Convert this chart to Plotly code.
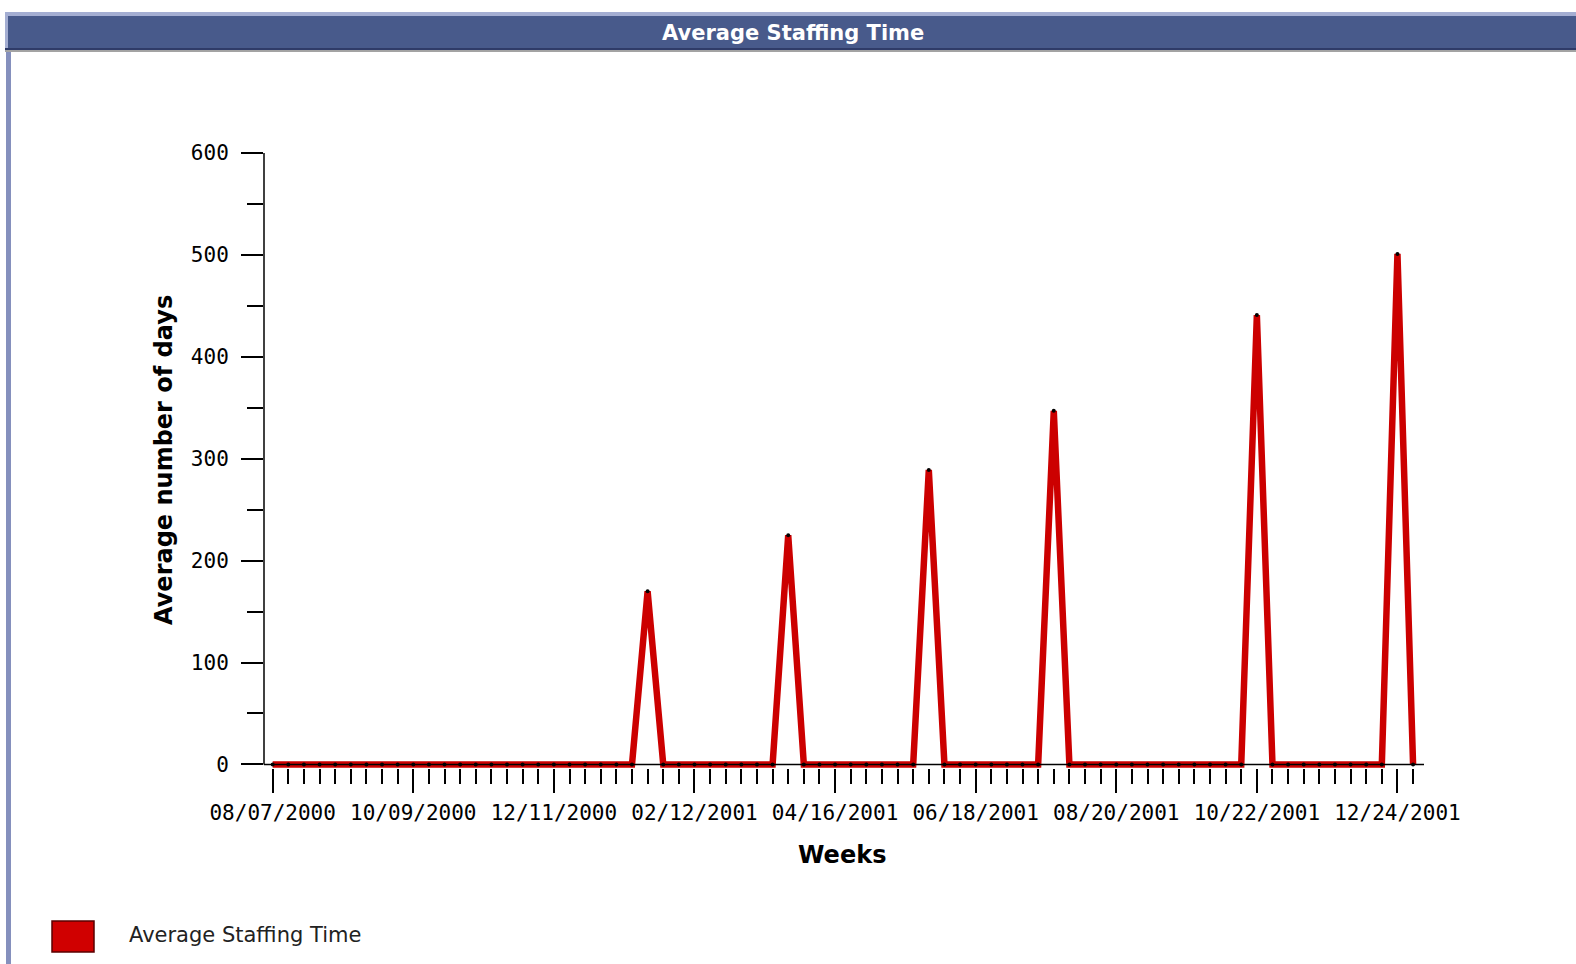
import pandas as pd
import plotly.graph_objects as go

# ---- data ----
start_week = "2000-08-07"
n_weeks = 74
weeks = pd.date_range(start_week, periods=n_weeks, freq="7D")
values = [0] * 24 + [170] + [0] * 8 + [225] + [0] * 8 + [289] + [0] * 7 + [347] + \
         [0] * 12 + [441] + [0] * 8 + [501] + [0]
y_ticks = [0, 100, 200, 300, 400, 500, 600]
title_text = "Average Staffing Time"
series_name = "Average Staffing Time"
x_title = "Weeks"
y_title = "Average number of days"

# ---- layout geometry (pixels) ----
W, H = 1576, 964
L, R = 264, 1424
T, B = 153, 768


def px(x):
    return (x - L) / (R - L)


def py(y):
    return (B - y) / (B - T)


DAY = 86400000
fig = go.Figure()
fig.add_trace(go.Scatter(
    x=weeks, y=values, mode="lines+markers", name=series_name,
    line=dict(color="#CC0000", width=6.5),
    marker=dict(color="black", size=4),
    cliponaxis=False, showlegend=False,
))

shapes = [
    # left border of panel
    dict(type="rect", xref="paper", yref="paper", x0=px(6), x1=px(11), y0=py(964), y1=py(13),
         fillcolor="#8590bd", line=dict(width=0), layer="below"),
    # title bar
    dict(type="rect", xref="paper", yref="paper", x0=px(5), x1=px(1580), y0=py(52), y1=py(12),
         fillcolor="#a3a3a3", line=dict(width=0)),
    dict(type="rect", xref="paper", yref="paper", x0=px(5), x1=px(1580), y0=py(50), y1=py(12),
         fillcolor="#2f3b68", line=dict(width=0)),
    dict(type="rect", xref="paper", yref="paper", x0=px(5), x1=px(1580), y0=py(48), y1=py(12),
         fillcolor="#a4aed2", line=dict(width=0)),
    dict(type="rect", xref="paper", yref="paper", x0=px(8), x1=px(1580), y0=py(48), y1=py(16),
         fillcolor="#485a8b", line=dict(width=0)),
    # axis lines
    dict(type="line", xref="paper", yref="y", x0=0, x1=1, y0=0, y1=0,
         line=dict(color="black", width=1.5)),
    dict(type="line", xref="paper", yref="y", x0=0, x1=0, y0=0, y1=600,
         line=dict(color="black", width=1.5)),
    # legend swatch
    dict(type="rect", xref="paper", yref="paper", x0=px(52), x1=px(94), y0=py(952), y1=py(921),
         fillcolor="#d00000", line=dict(color="#5a0000", width=1.5)),
]

annotations = [
    dict(text="<b>" + title_text + "</b>", xref="paper", yref="paper", x=px(793), y=py(33),
         xanchor="center", yanchor="middle", showarrow=False,
         font=dict(family="DejaVu Sans", size=21, color="white")),
    dict(text="<b>" + x_title + "</b>", xref="paper", yref="paper", x=px(842), y=py(855),
         xanchor="center", yanchor="middle", showarrow=False,
         font=dict(family="DejaVu Sans", size=24, color="black")),
    dict(text="<b>" + y_title + "</b>", xref="paper", yref="paper", x=px(164), y=py(460),
         xanchor="center", yanchor="middle", showarrow=False, textangle=-90,
         font=dict(family="DejaVu Sans", size=24, color="black")),
    dict(text=series_name, xref="paper", yref="paper", x=px(127), y=py(935),
         xanchor="left", yanchor="middle", showarrow=False,
         font=dict(family="DejaVu Sans", size=21, color="#222222")),
]

fig.update_layout(
    width=W, height=H,
    margin=dict(l=L, r=W - R, t=T, b=H - B, pad=0),
    paper_bgcolor="white", plot_bgcolor="white",
    shapes=shapes, annotations=annotations, showlegend=False,
    xaxis=dict(
        type="date",
        range=["2000-08-03 02:30", "2002-01-04 21:30"],
        tick0=start_week, dtick=63 * DAY, tickformat="%m/%d/%Y",
        ticks="outside", ticklen=24, tickwidth=1.5, tickcolor="black",
        ticklabelstandoff=2,
        minor=dict(tick0=start_week, dtick=7 * DAY, ticks="outside", ticklen=15,
                   tickwidth=1.5, tickcolor="black", showgrid=False),
        showgrid=False, zeroline=False, showline=False,
        tickfont=dict(family="DejaVu Sans Mono", size=21, color="black"),
        fixedrange=True,
    ),
    yaxis=dict(
        range=[-3.5, 600], tickvals=y_ticks,
        ticks="outside", ticklen=22, tickwidth=1.5, tickcolor="black",
        ticklabelstandoff=8,
        minor=dict(dtick=50, tick0=0, ticks="outside", ticklen=16, tickwidth=1.5,
                   tickcolor="black", showgrid=False),
        showgrid=False, zeroline=False, showline=False,
        tickfont=dict(family="DejaVu Sans Mono", size=21, color="black"),
        fixedrange=True,
    ),
)

fig.write_html("out.html", config={"displayModeBar": False},
               post_script="document.body.style.margin='0px';")
